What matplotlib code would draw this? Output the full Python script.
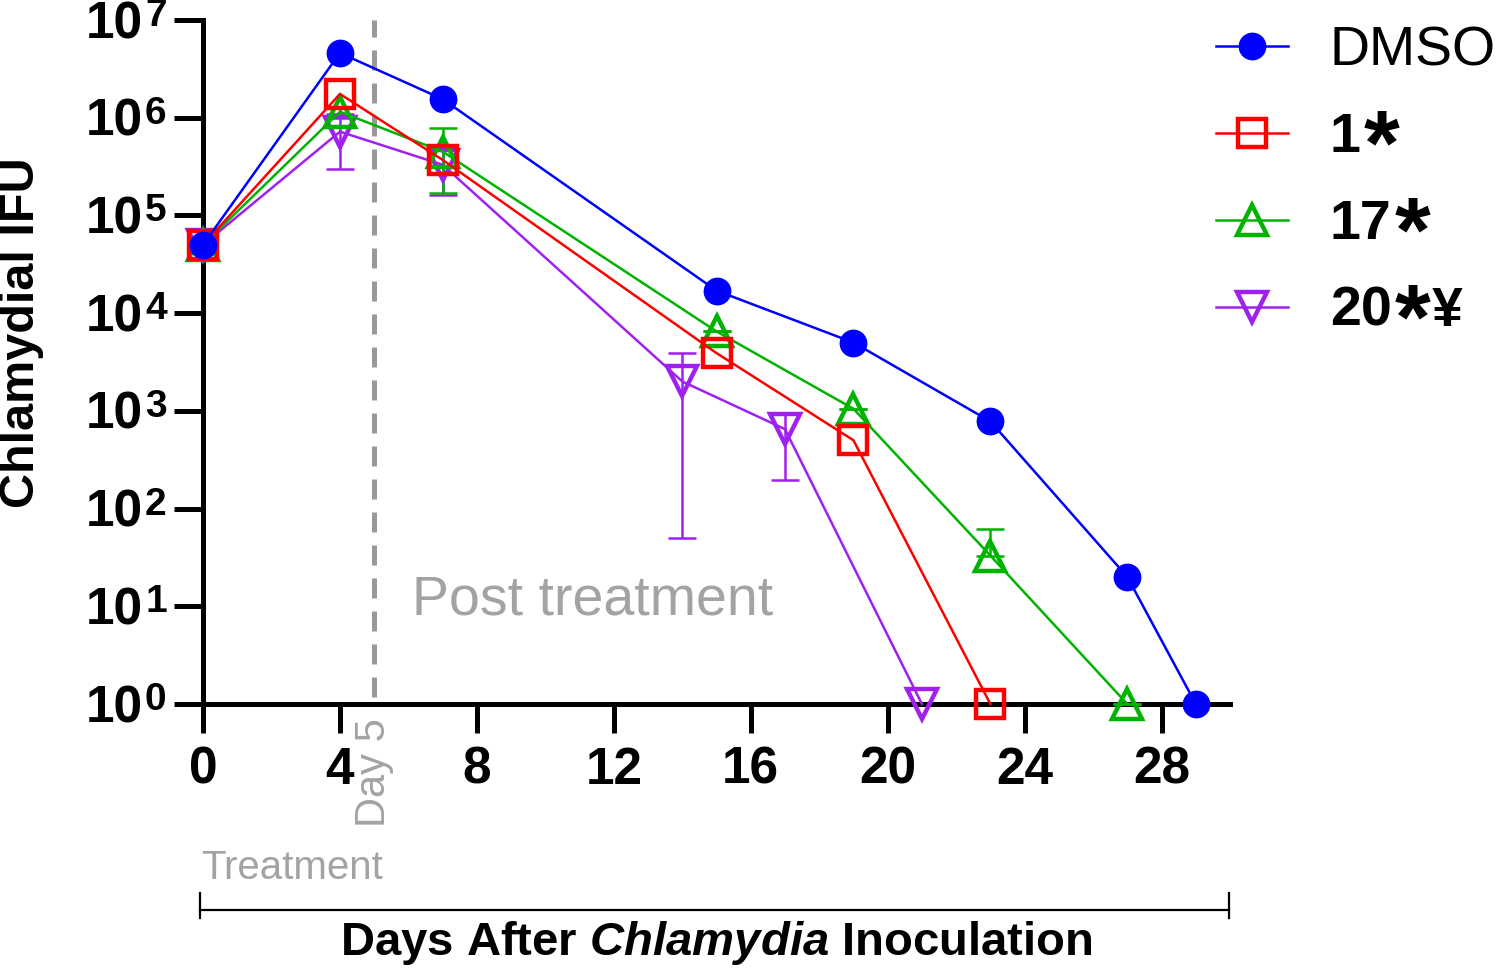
import matplotlib
matplotlib.use("Agg")
import matplotlib.pyplot as plt
import matplotlib.transforms as mtransforms
from matplotlib.text import Annotation
import numpy as np

plt.rcParams["font.family"] = ["Liberation Sans", "DejaVu Sans"]
plt.rcParams["mathtext.fontset"] = "custom"
plt.rcParams["mathtext.rm"] = "Liberation Sans"
plt.rcParams["mathtext.it"] = "Liberation Sans:bold:italic"
plt.rcParams["mathtext.bf"] = "Liberation Sans:bold"

# Colors
color_dmso = "#0000ff"
color_c1 = "#ff0000"
color_c17 = "#00b300"
color_c20 = "#a020f0"
color_grey = "#a3a3a6"

######### Data (IFU per day) #########
days_dmso = [0, 4, 7, 15, 19, 23, 27, 29]
ifu_dmso = [5e4, 4.6e6, 1.55e6, 1.7e4, 5.0e3, 780, 20, 1]

days_c1 = [0, 4, 7, 15, 19, 23]
ifu_c1 = [5e4, 1.75e6, 3.7e5, 3.9e3, 500, 1]

days_c17 = [0, 4, 7, 15, 19, 23, 27]
ifu_c17 = [5e4, 1.15e6, 4.5e5, 6.5e3, 1.05e3, 33, 1]
lo_c17 = [5e4, 1.0e6, 1.7e5, 6.5e3, 1.05e3, 33, 1]
hi_c17 = [5e4, 1.3e6, 7.8e5, 6.5e3, 1.05e3, 62, 1]

days_c20 = [0, 4, 7, 14, 17, 21]
ifu_c20 = [5e4, 7.2e5, 3.3e5, 2.0e3, 650, 1]
lo_c20 = [5e4, 3.0e5, 1.6e5, 50, 195, 1]
hi_c20 = [5e4, 1.1e6, 5.0e5, 3.9e3, 960, 1]

# legend: number part, then a big asterisk, then an optional suffix
label_names = ["DMSO", "1", "17", "20"]
label_star = [False, True, True, True]
label_suffix = ["", "", "", "¥"]

xticks = [0, 4, 8, 12, 16, 20, 24, 28]
decades = list(range(8))

fig = plt.figure(figsize=(15, 9.73), dpi=100)
ax = fig.add_axes([203 / 1500, 1 - 704 / 973, (1230 - 203) / 1500, (704 - 20) / 973])

ax.set_yscale("log")
ax.set_xlim(0, 30)
ax.set_ylim(1, 1e7)

lw = 1.8
ms = 20
mew = 3.2

# error bars first
ax.errorbar(days_c20, ifu_c20,
            yerr=[np.array(ifu_c20) - np.array(lo_c20), np.array(hi_c20) - np.array(ifu_c20)],
            fmt="none", ecolor=color_c20, elinewidth=lw, capsize=10, capthick=lw,
            clip_on=False, zorder=2)
ax.errorbar(days_c17, ifu_c17,
            yerr=[np.array(ifu_c17) - np.array(lo_c17), np.array(hi_c17) - np.array(ifu_c17)],
            fmt="none", ecolor=color_c17, elinewidth=lw, capsize=10, capthick=lw,
            clip_on=False, zorder=3)

l20, = ax.plot(days_c20, ifu_c20, color=color_c20, lw=lw, marker="v", ms=ms + 1,
               mfc="none", mec=color_c20, mew=mew, clip_on=False, zorder=4)
l17, = ax.plot(days_c17, ifu_c17, color=color_c17, lw=lw, marker="^", ms=ms + 1,
               mfc="none", mec=color_c17, mew=mew, clip_on=False, zorder=5)
l1, = ax.plot(days_c1, ifu_c1, color=color_c1, lw=lw, marker="s", ms=ms,
              mfc="none", mec=color_c1, mew=mew, clip_on=False, zorder=6)
ld, = ax.plot(days_dmso, ifu_dmso, color=color_dmso, lw=lw, marker="o", ms=ms - 1,
              mfc=color_dmso, mec=color_dmso, clip_on=False, zorder=7)

# axes styling
for s in ("top", "right"):
    ax.spines[s].set_visible(False)
for s in ("left", "bottom"):
    ax.spines[s].set_linewidth(3.6)
ax.set_xticks(xticks)
ax.set_xticklabels([str(v) for v in xticks], fontsize=37, fontweight="bold")
ax.set_yticks([10.0 ** k for k in decades])
ax.set_yticklabels([])
ax.yaxis.set_minor_locator(matplotlib.ticker.NullLocator())
ax.tick_params(axis="both", which="major", length=21, width=3.6)
ax.tick_params(axis="x", pad=9)

# y tick labels as "10" plus a large superscript
ytr = ax.get_yaxis_transform()
base_tr = ytr + mtransforms.ScaledTranslation(0, -13 / 72, fig.dpi_scale_trans)
sup_tr = ytr + mtransforms.ScaledTranslation(0, -4.3 / 72, fig.dpi_scale_trans)
for k in decades:
    ax.text((143 - 203) / 1027, 10.0 ** k, "10", transform=base_tr, ha="right",
            va="baseline", fontsize=37, fontweight="bold", clip_on=False)
    ax.text((145 - 203) / 1027, 10.0 ** k, str(k), transform=sup_tr, ha="left",
            va="baseline", fontsize=28, fontweight="bold", clip_on=False)

ax.set_ylabel("Chlamydial IFU", fontsize=35, fontweight="bold")
ax.yaxis.set_label_coords((44 - 203) / 1027, (704 - 333) / 684)

# treatment marker
ax.plot([5, 5], [1.18, 1e7], color="#999999", lw=3.6, ls=(0, (4, 2.6)),
        clip_on=False, zorder=1)
ax.text(5.0, -0.02, "Day 5", transform=ax.get_xaxis_transform(), rotation=90,
        ha="center", va="top", fontsize=30, color=color_grey)
ax.text(6.1, 10 ** 1.06, "Post treatment", ha="left", va="center",
        fontsize=40, color=color_grey)
ax.text(-0.05, -(868 - 704) / 684, "Treatment", transform=ax.get_xaxis_transform(),
        ha="left", va="center", fontsize=29, color=color_grey)

# bracket under the axis
tr = ax.get_xaxis_transform()
yb = -(910 - 704) / 684
ax.plot([-0.08, 29.98], [yb, yb], color="black", lw=1.6, transform=tr, clip_on=False)
for xe in (-0.08, 29.98):
    ax.plot([xe, xe], [yb + 17 / 684, yb - 8 / 684], color="black", lw=1.6,
            transform=tr, clip_on=False)

ax.text(15.0, -(943 - 704) / 684, r"Days After $\mathit{Chlamydia}$ Inoculation",
        transform=tr, ha="center", va="center", fontsize=34, fontweight="bold")

leg = fig.legend([ld, l1, l17, l20], label_names, loc="upper left",
                 bbox_to_anchor=(1216 / 1500, 1 - 25 / 973), frameon=False,
                 fontsize=40, handlelength=1.3, handletextpad=0.75,
                 labelspacing=0.63, borderpad=0, borderaxespad=0)
for i, t in enumerate(leg.get_texts()):
    if i > 0:
        t.set_fontweight("bold")
    if label_star[i]:
        star = Annotation("*", xy=(1, 0.5), xycoords=t, xytext=(2, -9),
                          textcoords="offset points", ha="left", va="center",
                          fontsize=66, fontweight="bold", annotation_clip=False)
        star.set_zorder(10)
        fig.add_artist(star)
        if label_suffix[i]:
            suf = Annotation(label_suffix[i], xy=(1, 0), xycoords=(star, t),
                             xytext=(1, 0), textcoords="offset points", ha="left",
                             va="bottom", fontsize=40, fontweight="bold",
                             annotation_clip=False)
            suf.set_zorder(11)
            fig.add_artist(suf)

fig.savefig("out.png", dpi=100)
